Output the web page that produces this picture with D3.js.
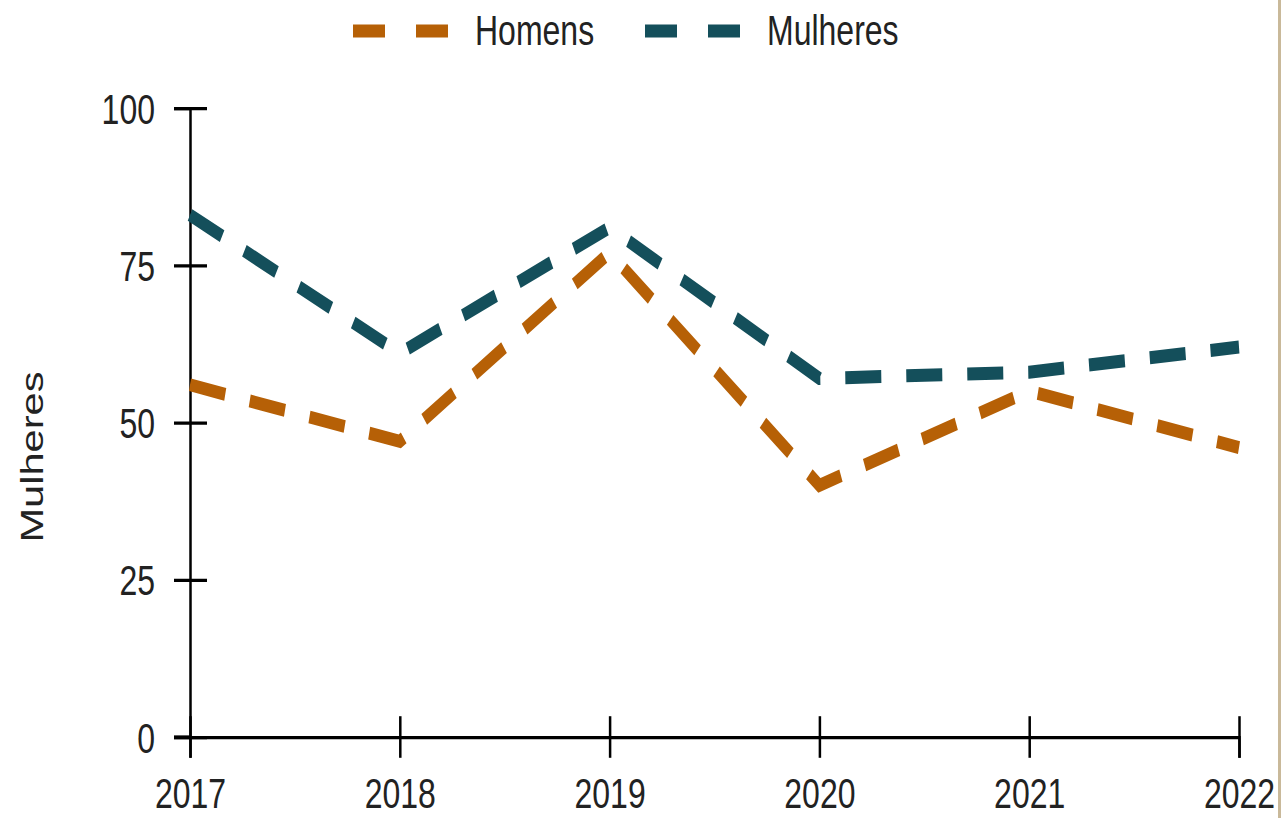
<!DOCTYPE html>
<html>
<head>
<meta charset="utf-8">
<script src="https://cdn.jsdelivr.net/npm/d3@7"></script>
<style>
  body { margin: 0; background: #fff; }
  svg { display: block; }
  text { font-family: "Liberation Sans", Arial, sans-serif; fill: #222; }
</style>
</head>
<body>
<div id="chart"></div>
<script>
const years = [2017, 2018, 2019, 2020, 2021, 2022];
const homens = [56, 47, 77, 40, 55, 46];
const mulheres = [83, 61, 81, 57, 58, 62];
const yTicks = [0, 25, 50, 75, 100];

const series = [
    { name: 'Homens', values: homens, color: '#b66006' },
    { name: 'Mulheres', values: mulheres, color: '#144f5b' }
];

const width = 1281;
const height = 818;
// the picture is stretched vertically, so draw in a squashed space
const sy = 1.3;

const svg = d3.select('#chart')
    .append('svg')
    .attr('width', width)
    .attr('height', height);

svg.append('rect')
    .attr('x', 1278)
    .attr('y', 0)
    .attr('width', 3)
    .attr('height', height)
    .attr('fill', '#c9b99a');

const g = svg.append('g')
    .attr('transform', `scale(1,${sy})`);

const x = d3.scaleLinear()
    .domain([2017, 2022])
    .range([190, 1239]);

const y = d3.scaleLinear()
    .domain([0, 100])
    .range([737 / sy, 108 / sy]);

// y axis
const yAxis = g.append('g')
    .attr('transform', `translate(${x(2017)},0)`)
    .call(d3.axisLeft(y).tickValues(yTicks).tickSize(16).tickPadding(20));
yAxis.select('.domain').attr('stroke', '#000').attr('stroke-width', 2.5);
yAxis.selectAll('.tick line').attr('x1', 17).attr('stroke', '#000').attr('stroke-width', 2.5);
yAxis.selectAll('.tick text')
    .attr('font-size', 32)
    .attr('fill', '#222')
    .attr('x', -35)
    .attr('dy', '0.36em');

// x axis
const xAxis = g.append('g')
    .attr('transform', `translate(0,${y(0)})`)
    .call(d3.axisBottom(x).tickValues(years).tickFormat(d3.format('d')).tickSize(16));
xAxis.select('.domain').attr('stroke', '#000').attr('stroke-width', 2.5);
xAxis.selectAll('.tick line').attr('y1', -16).attr('stroke', '#000').attr('stroke-width', 2.5);
xAxis.selectAll('.tick text')
    .attr('font-size', 32)
    .attr('fill', '#222')
    .attr('y', 808 / sy - y(0))
    .attr('dy', 0);
g.append('line')
    .attr('x1', 174).attr('x2', x(2017))
    .attr('y1', y(0)).attr('y2', y(0))
    .attr('stroke', '#000').attr('stroke-width', 2.5);

// y label
g.append('text')
    .attr('transform', `translate(43,${457 / sy}) rotate(-90)`)
    .attr('text-anchor', 'middle')
    .attr('font-size', 32)
    .text('Mulheres');

// lines
const line = d3.line()
    .x((d, i) => x(years[i]))
    .y(d => y(d));

g.selectAll('.serie')
    .data(series)
    .enter().append('path')
    .attr('class', 'serie')
    .attr('d', d => line(d.values))
    .attr('fill', 'none')
    .attr('stroke', d => d.color)
    .attr('stroke-width', 10)
    .attr('stroke-linejoin', 'miter')
    .attr('stroke-dasharray', '36,25');

// legend
const legendX = [353, 645];
const legend = g.selectAll('.legend')
    .data(series)
    .enter().append('g')
    .attr('class', 'legend')
    .attr('transform', (d, i) => `translate(${legendX[i]},${31 / sy})`);

legend.append('line')
    .attr('x1', 0).attr('x2', 96)
    .attr('y1', 0).attr('y2', 0)
    .attr('stroke', d => d.color)
    .attr('stroke-width', 10)
    .attr('stroke-dasharray', '32,31');

legend.append('text')
    .attr('x', 122)
    .attr('y', 11)
    .attr('font-size', 32)
    .text(d => d.name);
</script>
</body>
</html>
